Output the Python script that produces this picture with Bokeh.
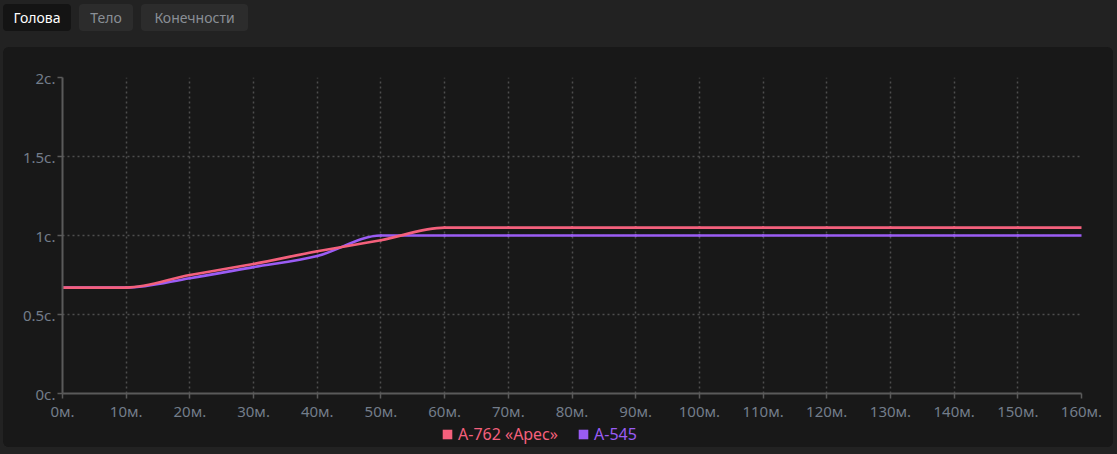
import math
from bokeh.plotting import figure
from bokeh.models import ColumnDataSource, FixedTicker, Legend, LegendItem, Div, Range1d
from bokeh.layouts import column
from bokeh.embed import file_html
from bokeh.resources import INLINE

# ---------------- data ----------------
minutes = [0, 10, 20, 30, 40, 50, 60, 70, 80, 90, 100, 110, 120, 130, 140, 150, 160]
ares_762 = [0.67, 0.67, 0.75, 0.82, 0.90, 0.97, 1.05, 1.05, 1.05, 1.05, 1.05, 1.05, 1.05, 1.05, 1.05, 1.05, 1.05]
a_545 = [0.67, 0.67, 0.73, 0.80, 0.87, 1.00, 1.00, 1.00, 1.00, 1.00, 1.00, 1.00, 1.00, 1.00, 1.00, 1.00, 1.00]
series_names = ["A-762 «Арес»", "A-545"]
x_tick_labels = ["0м.", "10м.", "20м.", "30м.", "40м.", "50м.", "60м.", "70м.", "80м.", "90м.",
                 "100м.", "110м.", "120м.", "130м.", "140м.", "150м.", "160м."]
y_ticks = [0, 0.5, 1, 1.5, 2]
y_tick_labels = ["0с.", "0.5с.", "1с.", "1.5с.", "2с."]
tabs = ["Голова", "Тело", "Конечности"]

RED = "#f4607c"
PURPLE = "#9a5cf4"
FONT = "Noto Sans"
PANEL = "#181818"


def monotone_bezier(xs, ys):
    """Control points for a monotone cubic rendering of the line (as Chart.js does)."""
    n = len(xs)
    d = [(ys[i + 1] - ys[i]) / (xs[i + 1] - xs[i]) for i in range(n - 1)]
    m = [0.0] * n
    m[0] = d[0]
    m[-1] = d[-1]
    sgn = lambda v: (v > 0) - (v < 0)
    for i in range(1, n - 1):
        m[i] = 0.0 if sgn(d[i - 1]) != sgn(d[i]) else (d[i - 1] + d[i]) / 2
    for i in range(n - 1):
        if abs(d[i]) < 1e-12:
            m[i] = m[i + 1] = 0.0
            continue
        a = m[i] / d[i]
        b = m[i + 1] / d[i]
        s = a * a + b * b
        if s > 9:
            t = 3 / math.sqrt(s)
            m[i] = a * t * d[i]
            m[i + 1] = b * t * d[i]
    seg = dict(x0=[], y0=[], x1=[], y1=[], cx0=[], cy0=[], cx1=[], cy1=[])
    for i in range(n - 1):
        dx = (xs[i + 1] - xs[i]) / 3
        seg["x0"].append(xs[i]); seg["y0"].append(ys[i])
        seg["x1"].append(xs[i + 1]); seg["y1"].append(ys[i + 1])
        seg["cx0"].append(xs[i] + dx); seg["cy0"].append(ys[i] + m[i] * dx)
        seg["cx1"].append(xs[i + 1] - dx); seg["cy1"].append(ys[i + 1] - m[i + 1] * dx)
    return ColumnDataSource(seg)


# ---------------- main chart ----------------
p = figure(width=1110, height=376, output_backend="svg", toolbar_location=None,
           x_range=Range1d(0, 160), y_range=Range1d(0, 2),
           min_border_left=59, min_border_right=32, min_border_top=30, min_border_bottom=27,
           background_fill_color=PANEL, border_fill_color=PANEL,
           outline_line_color=None, margin=0)

p.xaxis.ticker = FixedTicker(ticks=minutes)
p.xaxis.major_label_overrides = {m: lab for m, lab in zip(minutes, x_tick_labels)}
p.yaxis.ticker = FixedTicker(ticks=y_ticks)
p.yaxis.major_label_overrides = {t: lab for t, lab in zip(y_ticks, y_tick_labels)}

for ax in (p.xaxis[0], p.yaxis[0]):
    ax.axis_line_color = "#5a5a5a"
    ax.axis_line_width = 2
    ax.major_tick_line_color = "#5a5a5a"
    ax.major_tick_line_width = 1.5
    ax.major_tick_out = 5
    ax.major_tick_in = 0
    ax.minor_tick_line_color = None
    ax.major_label_text_color = "#737d8a"
    ax.major_label_text_font = FONT
    ax.major_label_text_font_size = "15px"
    ax.major_label_standoff = 2

for g in (p.xgrid[0], p.ygrid[0]):
    g.grid_line_color = "#4d4d4d"
    g.grid_line_dash = "2 3"
    g.grid_line_width = 1.5

r2 = p.bezier(x0="x0", y0="y0", x1="x1", y1="y1", cx0="cx0", cy0="cy0", cx1="cx1", cy1="cy1",
              source=monotone_bezier(minutes, a_545), line_color=PURPLE, line_width=2.6,
              line_cap="round")
r1 = p.bezier(x0="x0", y0="y0", x1="x1", y1="y1", cx0="cx0", cy0="cy0", cx1="cx1", cy1="cy1",
              source=monotone_bezier(minutes, ares_762), line_color=RED, line_width=2.6,
              line_cap="round")

# ---------------- legend strip ----------------
lf = figure(width=1110, height=24, output_backend="svg", toolbar_location=None,
            x_range=Range1d(0, 1), y_range=Range1d(0, 1),
            x_axis_location=None, y_axis_location=None,
            min_border=0, background_fill_color=PANEL, border_fill_color=PANEL,
            outline_line_color=None, margin=0)
lf.grid.visible = False

# swatch renderers used only for the legend glyphs (placed outside the visible range)
sw1 = lf.quad(left=[-3], right=[-2], top=[-2], bottom=[-3], fill_color=RED, line_color=None)
sw2 = lf.quad(left=[-3], right=[-2], top=[-2], bottom=[-3], fill_color=PURPLE, line_color=None)

for name, sw, col, loc in ((series_names[0], sw1, RED, (379, 2)),
                           (series_names[1], sw2, PURPLE, (515, 2))):
    lg = Legend(items=[LegendItem(label=name, renderers=[sw])], location=loc,
                orientation="horizontal", padding=0, margin=0, spacing=0,
                glyph_width=12, glyph_height=12, label_standoff=5,
                label_text_color=col, label_text_font=FONT, label_text_font_size="16px",
                background_fill_alpha=0, border_line_alpha=0)
    lf.add_layout(lg)

# ---------------- tabs ----------------
tab_specs = [(3, 68, "#141414", "#ffffff"), (79, 54, "#2c2c2c", "#8a8f96"), (141, 107, "#2c2c2c", "#8a8f96")]
spans = ""
for (left, w, bg, fg), label in zip(tab_specs, tabs):
    spans += (f'<div style="position:absolute;left:{left}px;top:4px;width:{w}px;height:27px;'
              f'background:{bg};color:{fg};border-radius:4px;font-family:\'{FONT}\';font-size:14px;'
              f'line-height:27px;text-align:center;">{label}</div>')
div = Div(text=f'<div style="position:relative;width:1117px;height:47px;">{spans}</div>',
          width=1117, height=47, margin=0)

panel = column(p, lf, spacing=0, margin=(0, 0, 0, 3),
               styles={"background-color": PANEL, "border-radius": "6px", "overflow": "hidden"})
layout = column(div, panel, spacing=0, margin=0, styles={"background-color": "#222222"})

html = file_html(layout, INLINE)
html = html.replace("<head>", "<head><style>html,body{margin:0;padding:0;background:#222222;}</style>", 1)
open("out.html", "w").write(html)
